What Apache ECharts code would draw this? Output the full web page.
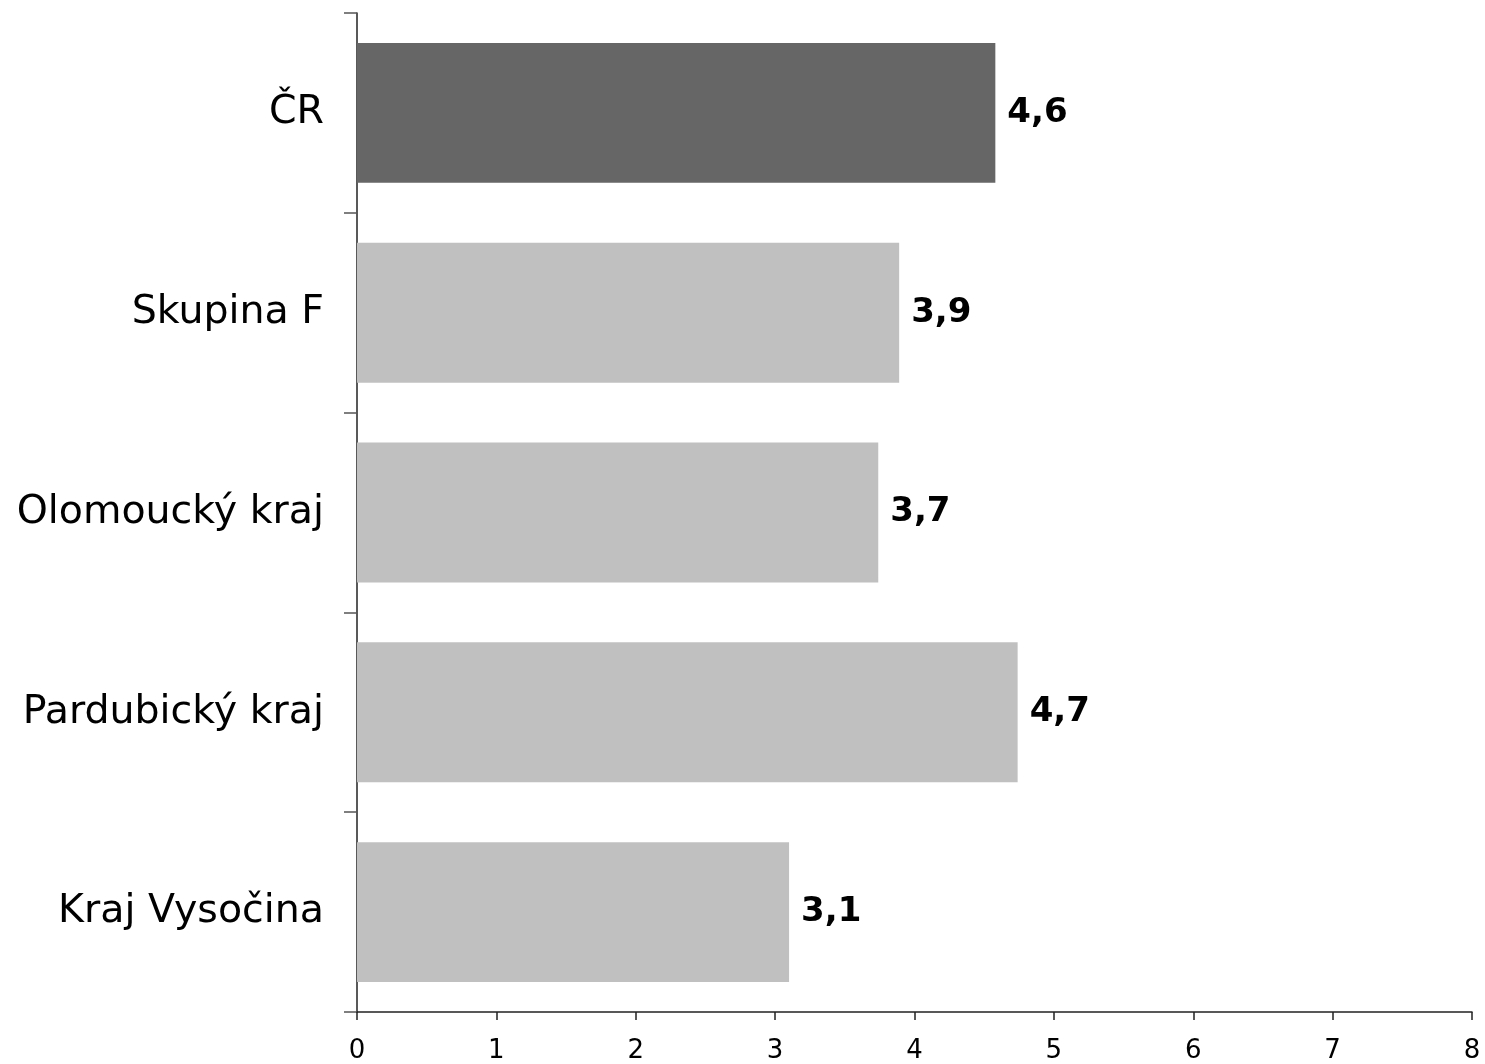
<!DOCTYPE html>
<html>
<head>
<meta charset="utf-8">
<script src="https://cdn.jsdelivr.net/npm/echarts@6/dist/echarts.min.js"></script>
<style>html,body{margin:0;padding:0;background:#fff}#c{width:1485px;height:1064px}</style>
</head>
<body>
<div id="c"></div>
<script>
const categories = ['ČR', 'Skupina F', 'Olomoucký kraj', 'Pardubický kraj', 'Kraj Vysočina'];
const values = [4.58, 3.89, 3.74, 4.74, 3.10];
const barColors = ['#666666', '#c0c0c0', '#c0c0c0', '#c0c0c0', '#c0c0c0'];
const xTicks = [0, 1, 2, 3, 4, 5, 6, 7, 8];

const chart = echarts.init(document.getElementById('c'), null, {renderer: 'canvas'});
chart.setOption({
  animation: false,
  backgroundColor: '#ffffff',
  grid: {left: 357, right: 13, top: 13, bottom: 52, containLabel: false},
  xAxis: {
    type: 'value', min: xTicks[0], max: xTicks[xTicks.length - 1], interval: 1,
    axisLine: {show: true, lineStyle: {color: '#222', width: 1.5}},
    axisTick: {show: true, length: 8, lineStyle: {color: '#222', width: 1.5}},
    axisLabel: {color: '#000', fontFamily: 'DejaVu Sans', fontSize: 26, margin: 26},
    splitLine: {show: false}
  },
  yAxis: {
    type: 'category', data: categories, inverse: true,
    axisLine: {show: true, lineStyle: {color: '#222', width: 1.5}},
    axisTick: {show: true, length: 13, lineStyle: {color: '#555', width: 1.5}},
    axisLabel: {color: '#000', fontFamily: 'DejaVu Sans', fontSize: 39.5, margin: 33}
  },
  series: [{
    type: 'bar',
    data: values.map((v, i) => ({value: v, itemStyle: {color: barColors[i]}})),
    barWidth: '70%',
    label: {
      show: true, position: 'right', distance: 12,
      fontFamily: 'DejaVu Sans', fontWeight: 'bold', fontSize: 34, color: '#000',
      formatter: p => p.value.toFixed(1).replace('.', ',')
    }
  }]
});
</script>
</body>
</html>
